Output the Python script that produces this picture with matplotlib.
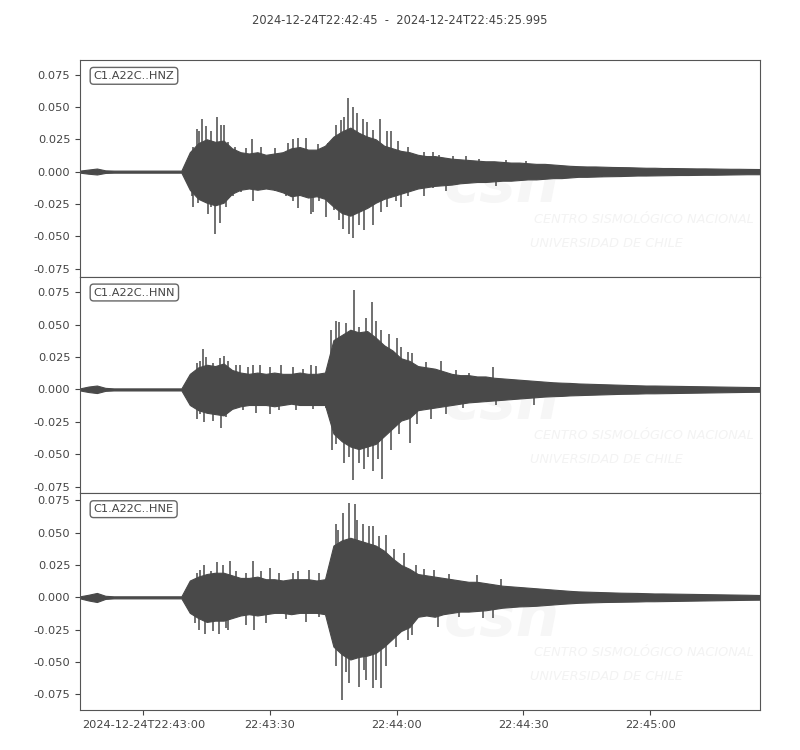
import numpy as np
import matplotlib
matplotlib.use("Agg")
import matplotlib.pyplot as plt

# seconds after 2024-12-24T22:42:45, envelope sampled every 2 s (last sample at trace end)
t_end = 160.995
t_env = np.append(np.arange(0, 160, 2), t_end)

title = "2024-12-24T22:42:45  -  2024-12-24T22:45:25.995"
channels = ["C1.A22C..HNZ", "C1.A22C..HNN", "C1.A22C..HNE"]

tick_secs = [15, 45, 75, 105, 135]
tick_labels = ["2024-12-24T22:43:00", "22:43:30", "22:44:00", "22:44:30", "22:45:00"]
yticks = [-0.075, -0.05, -0.025, 0.0, 0.025, 0.05, 0.075]
ylims = [(-0.0811, 0.0862), (-0.0801, 0.0869), (-0.0870, 0.0803)]

# dense part of each trace (units of 1e-3), upper and lower (magnitude)
hnz_up = [0.8, 1.6, 2.4, 1.0, 0.8, 0.8, 0.8, 0.8, 0.8, 0.8, 0.8, 0.8, 0.8,
          15, 22, 25, 23, 24, 18, 15, 14, 15, 13, 14, 15, 18, 19, 17, 17, 20,
          27, 31, 34, 30, 27, 25, 20, 18, 16, 15,
          13, 12, 12, 11, 10, 9.5, 9, 8.5, 8, 8,
          7.5, 7, 7, 6.5, 6, 6, 5.5, 5, 4.5, 4.2,
          4, 4, 3.8, 3.6, 3.5, 3.4, 3.2, 3, 3, 2.8,
          2.8, 2.7, 2.6, 2.5, 2.5, 2.4, 2.3, 2.2, 2.2, 2.1, 2.0]
hnz_lo = [0.8, 1.6, 2.2, 1.0, 0.8, 0.8, 0.8, 0.8, 0.8, 0.8, 0.8, 0.8, 0.8,
          14, 21, 24, 26, 24, 17, 14, 13, 14, 13, 14, 16, 19, 18, 20, 19, 21,
          27, 32, 34, 31, 28, 24, 21, 19, 17, 15,
          13, 12, 11, 10.5, 10, 9, 8.5, 8, 8, 7.5,
          7, 7, 6.5, 6, 6, 5.5, 5, 5, 4.5, 4,
          4, 3.8, 3.6, 3.5, 3.4, 3.2, 3, 3, 2.9, 2.8,
          2.7, 2.6, 2.6, 2.5, 2.4, 2.4, 2.3, 2.2, 2.1, 2.0, 2.0]
hnn_up = [0.8, 2.2, 3.0, 1.2, 0.8, 0.8, 0.8, 0.8, 0.8, 0.8, 0.8, 0.8, 0.8,
          12, 17, 19, 18, 20, 15, 13, 12, 13, 12, 13, 12, 12, 13, 12, 12, 13,
          38, 42, 46, 44, 45, 40, 34, 30, 24, 22,
          18, 17, 16, 14, 12, 11, 11, 10, 10, 9,
          8.5, 8, 7.5, 7, 6.5, 6, 5.5, 5.2, 5, 4.6,
          4.4, 4.2, 4, 3.8, 3.6, 3.4, 3.2, 3, 3, 2.9,
          2.8, 2.7, 2.6, 2.5, 2.4, 2.3, 2.2, 2.1, 2.0, 1.9, 1.8]
hnn_lo = [0.8, 2.0, 2.8, 1.1, 0.8, 0.8, 0.8, 0.8, 0.8, 0.8, 0.8, 0.8, 0.8,
          12, 16, 18, 19, 20, 15, 13, 12, 12, 12, 13, 12, 11, 12, 12, 12, 12,
          34, 40, 44, 46, 44, 42, 36, 30, 24, 22,
          16, 15, 14, 13, 12, 11, 10, 9.5, 9, 8.5,
          8, 7.5, 7, 6.5, 6, 5.5, 5.2, 5, 4.6, 4.4,
          4.2, 4, 3.8, 3.6, 3.4, 3.3, 3.2, 3, 3, 2.9,
          2.8, 2.7, 2.6, 2.5, 2.4, 2.3, 2.2, 2.1, 2.0, 1.9, 1.8]
hne_up = [0.8, 2.0, 3.4, 1.2, 0.8, 0.8, 0.8, 0.8, 0.8, 0.8, 0.8, 0.8, 0.8,
          13, 16, 18, 19, 19, 17, 15, 15, 16, 14, 14, 13, 14, 14, 14, 13, 14,
          40, 44, 46, 44, 42, 40, 36, 30, 25, 22,
          18, 17, 16, 15, 14, 13, 12, 12, 11, 10,
          9, 8.5, 8, 7.5, 7, 6.5, 6, 5.5, 5, 4.6,
          4.4, 4.2, 4, 3.8, 3.6, 3.5, 3.4, 3.2, 3, 3,
          2.9, 2.8, 2.7, 2.6, 2.5, 2.4, 2.3, 2.2, 2.1, 2.0, 1.8]
hne_lo = [0.8, 2.4, 3.6, 1.2, 0.8, 0.8, 0.8, 0.8, 0.8, 0.8, 0.8, 0.8, 0.8,
          12, 16, 19, 18, 18, 16, 14, 13, 14, 13, 12, 12, 13, 12, 12, 12, 13,
          38, 44, 48, 46, 45, 43, 38, 32, 26, 23,
          15, 14, 15, 13, 12, 11, 11, 10.5, 10, 9,
          8, 7.5, 7, 6.8, 6.5, 6, 5.5, 5, 4.6, 4.2,
          4, 3.8, 3.6, 3.5, 3.4, 3.3, 3.2, 3, 3, 2.9,
          2.8, 2.7, 2.6, 2.5, 2.4, 2.3, 2.2, 2.1, 2.0, 1.9, 1.8]

# single peaks sticking out of the dense part (s, amplitude)
hnz_spike_t = [26.8, 27.6, 28.1, 29.0, 29.8, 31.1, 32.4, 33.5, 34.0, 35.0, 36.6, 39.4, 40.8, 42.9, 46.1,
               49.2, 50.4, 51.7, 53.5, 56.3, 58.7, 60.6, 61.7, 62.4, 63.5, 64.6, 65.5, 66.9, 67.9, 69.4,
               71.1, 72.6, 73.6, 75.2, 77.6, 81.5, 83.5, 85.0, 88.2, 91.4, 94.5, 100.8, 105.5,
               26.4, 26.8, 28.0, 30.2, 31.1, 31.9, 33.2, 34.6, 36.2, 38.2, 40.9, 42.5, 46.1, 48.8, 50.4,
               51.7, 54.7, 55.1, 56.7, 58.3, 60.2, 61.4, 62.2, 63.6, 64.6, 66.1, 67.3, 69.3, 71.3, 72.8,
               74.8, 76.0, 77.6, 81.5, 83.5, 86.6, 98.4, 123.6]
hnz_spike_a = [0.019, 0.033, 0.031, 0.041, 0.035, 0.031, 0.042, 0.036, 0.036, 0.023, 0.019, 0.018, 0.025, 0.019, 0.018,
               0.022, 0.025, 0.026, 0.026, 0.021, 0.022, 0.036, 0.040, 0.042, 0.057, 0.050, 0.045, 0.041, 0.038, 0.032,
               0.041, 0.031, 0.031, 0.024, 0.019, 0.015, 0.015, 0.013, 0.012, 0.012, 0.010, 0.009, 0.0085,
               -0.019, -0.027, -0.024, -0.033, -0.027, -0.048, -0.040, -0.027, -0.019, -0.016, -0.023, -0.014, -0.015, -0.019, -0.023,
               -0.028, -0.033, -0.031, -0.023, -0.035, -0.030, -0.037, -0.044, -0.048, -0.051, -0.041, -0.045, -0.041, -0.031, -0.027,
               -0.023, -0.027, -0.019, -0.019, -0.013, -0.015, -0.011, -0.0045]
hnn_spike_t = [26.8, 27.6, 28.3, 29.1, 29.9, 31.5, 33.1, 34.0, 35.0, 37.0, 37.8, 39.8, 41.0, 42.5, 44.9,
               47.6, 50.4, 52.8, 54.7, 55.9, 59.4, 60.5, 61.4, 63.0, 64.8, 66.1, 67.7, 69.1, 70.1, 71.3,
               73.2, 75.0, 76.1, 77.6, 78.7, 81.9, 85.4, 89.0, 92.1, 97.7,
               27.6, 28.3, 29.3, 31.5, 33.3, 34.6, 38.6, 41.7, 45.0, 47.2, 51.2, 55.1, 58.3, 59.7, 60.6,
               62.6, 63.8, 64.7, 66.1, 67.3, 68.1, 69.3, 70.5, 71.5, 73.6, 75.6, 78.2, 79.9, 83.1, 86.6,
               90.6, 98.4, 107.6]
hnn_spike_a = [0.012, 0.020, 0.022, 0.031, 0.025, 0.020, 0.024, 0.026, 0.022, 0.019, 0.019, 0.017, 0.019, 0.019, 0.017,
               0.019, 0.017, 0.016, 0.019, 0.018, 0.046, 0.053, 0.052, 0.051, 0.077, 0.048, 0.055, 0.067, 0.053, 0.046,
               0.043, 0.040, 0.033, 0.029, 0.028, 0.021, 0.022, 0.015, 0.013, 0.017,
               -0.023, -0.019, -0.025, -0.024, -0.030, -0.021, -0.016, -0.018, -0.019, -0.016, -0.016, -0.015, -0.014, -0.047, -0.042,
               -0.057, -0.052, -0.070, -0.057, -0.061, -0.052, -0.063, -0.054, -0.069, -0.047, -0.034, -0.041, -0.027, -0.023, -0.019,
               -0.014, -0.012, -0.012]
hne_spike_t = [26.4, 27.6, 28.3, 29.3, 31.1, 32.4, 33.9, 35.4, 37.0, 39.4, 40.9, 42.9, 44.9, 47.2, 50.4,
               51.6, 54.3, 56.7, 58.7, 60.5, 61.0, 62.2, 63.6, 65.0, 65.7, 66.9, 68.5, 69.3, 70.9, 72.4,
               74.4, 76.8, 79.5, 81.5, 83.9, 87.4, 94.1, 99.6,
               27.2, 28.2, 29.5, 31.5, 33.0, 34.6, 35.0, 37.0, 39.4, 41.3, 44.1, 48.8, 53.5, 56.7, 59.8,
               60.6, 62.0, 63.0, 63.8, 66.0, 67.3, 67.7, 69.4, 70.1, 71.3, 72.4, 74.8, 77.6, 78.7, 84.7,
               89.8, 95.3, 97.7]
hne_spike_a = [0.012, 0.019, 0.021, 0.025, 0.020, 0.027, 0.025, 0.028, 0.020, 0.019, 0.028, 0.020, 0.023, 0.019, 0.019,
               0.020, 0.021, 0.019, 0.018, 0.057, 0.052, 0.065, 0.073, 0.072, 0.060, 0.057, 0.055, 0.055, 0.047, 0.048,
               0.037, 0.034, 0.025, 0.022, 0.021, 0.018, 0.017, 0.014,
               -0.020, -0.025, -0.028, -0.026, -0.028, -0.024, -0.025, -0.015, -0.021, -0.025, -0.020, -0.017, -0.019, -0.015, -0.033,
               -0.053, -0.079, -0.058, -0.066, -0.069, -0.056, -0.064, -0.070, -0.064, -0.070, -0.053, -0.038, -0.033, -0.029, -0.023,
               -0.015, -0.016, -0.016]

traces = [
    (hnz_up, hnz_lo, hnz_spike_t, hnz_spike_a),
    (hnn_up, hnn_lo, hnn_spike_t, hnn_spike_a),
    (hne_up, hne_lo, hne_spike_t, hne_spike_a),
]

line_col = "#494949"
text_col = "#444444"
plt.rcParams["font.family"] = ["DejaVu Sans"]
plt.rcParams["font.size"] = 8.2

fig, axes = plt.subplots(3, 1, figsize=(8, 7.5), dpi=100, sharex=True)
fig.subplots_adjust(left=0.1, right=0.95, top=0.92, bottom=0.0533, hspace=0)

for i, ax in enumerate(axes):
    up, lo, sp_t, sp_a = traces[i]
    up = np.array(up) * 1e-3
    lo = -np.array(lo) * 1e-3

    # faint logo watermark
    ax.text(0.62, 0.42, "csn", transform=ax.transAxes, fontsize=44, fontweight="bold",
            fontstyle="italic", color="#f6f6f6", ha="center", va="center", zorder=0)
    ax.text(0.668, 0.265, "CENTRO SISMOLÓGICO NACIONAL", transform=ax.transAxes, fontsize=9.3,
            fontstyle="italic", color="#f3f3f3", ha="left", va="center", zorder=0)
    ax.text(0.662, 0.155, "UNIVERSIDAD DE CHILE", transform=ax.transAxes, fontsize=9.3,
            fontstyle="italic", color="#f3f3f3", ha="left", va="center", zorder=0)

    ax.fill_between(t_env, lo, up, color=line_col, linewidth=0.8, zorder=2)
    ax.vlines(sp_t, 0, sp_a, color=line_col, linewidth=1.1, zorder=2)

    ax.set_xlim(0, t_end)
    ax.set_ylim(*ylims[i])
    ax.set_yticks(yticks)
    ax.set_yticklabels(["%.3f" % v for v in yticks])
    ax.tick_params(colors=text_col, labelcolor=text_col, labelsize=8.2)
    for sp in ax.spines.values():
        sp.set_color("#555555")
    if i < 2:
        ax.tick_params(axis="x", bottom=False, labelbottom=False)
    ax.text(0.02, 0.95, channels[i], transform=ax.transAxes, ha="left", va="top",
            fontsize=8.2, color=text_col, zorder=5,
            bbox=dict(boxstyle="round,pad=0.3", fc="white", ec="#666666", lw=1.0))

axes[-1].set_xticks(tick_secs)
axes[-1].set_xticklabels(tick_labels)

fig.text(0.5, 0.973, title, ha="center", va="center", fontsize=8.3, color=text_col)

fig.savefig("out.png", dpi=100, facecolor="white")
